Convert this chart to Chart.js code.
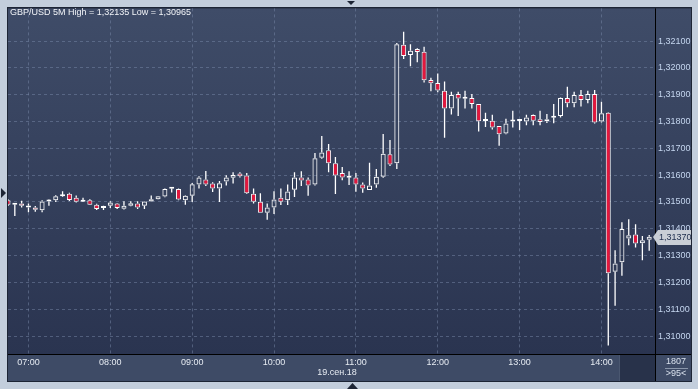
<!DOCTYPE html>
<html>
<head>
<meta charset="utf-8">
<script src="https://cdn.jsdelivr.net/npm/chart.js@4.4.1/dist/chart.umd.min.js"></script>
<style>
  html, body { margin: 0; padding: 0; background: #c3cedc; }
  #wrap { width: 698px; height: 389px; }
</style>
</head>
<body>
<div id="wrap"><canvas id="chart" width="698" height="389"></canvas></div>
<script>
// GBP/USD 5 minute candles, 06:45 .. 14:35
const opens = [
  1.31506, 1.31490, 1.31494, 1.31486, 1.31479, 1.31469, 1.31502, 1.31506, 1.31521, 1.31531,
  1.31516, 1.31501, 1.31506, 1.31490, 1.31479, 1.31486, 1.31494, 1.31475, 1.31486, 1.31494,
  1.31486, 1.31502, 1.31510, 1.31520, 1.31549, 1.31548, 1.31506, 1.31523, 1.31565, 1.31584,
  1.31569, 1.31550, 1.31576, 1.31590, 1.31606, 1.31599, 1.31531, 1.31501, 1.31460, 1.31479,
  1.31516, 1.31506, 1.31546, 1.31591, 1.31584, 1.31565, 1.31665, 1.31693, 1.31644, 1.31608,
  1.31591, 1.31591, 1.31565, 1.31545, 1.31565, 1.31594, 1.31678, 1.31644, 1.32086, 1.32048,
  1.32071, 1.32060, 1.31955, 1.31944, 1.31915, 1.31849, 1.31903, 1.31886, 1.31888, 1.31865,
  1.31803, 1.31803, 1.31783, 1.31755, 1.31800, 1.31802, 1.31800, 1.31824, 1.31809, 1.31801,
  1.31814, 1.31821, 1.31888, 1.31868, 1.31899, 1.31880, 1.31903, 1.31800, 1.31833, 1.31240,
  1.31275, 1.31364, 1.31379, 1.31346, 1.31359
];
const highs = [
  1.31510, 1.31494, 1.31505, 1.31494, 1.31485, 1.31506, 1.31509, 1.31525, 1.31540, 1.31534,
  1.31524, 1.31516, 1.31510, 1.31493, 1.31486, 1.31503, 1.31496, 1.31503, 1.31503, 1.31503,
  1.31503, 1.31524, 1.31522, 1.31550, 1.31556, 1.31550, 1.31525, 1.31571, 1.31596, 1.31616,
  1.31574, 1.31578, 1.31600, 1.31611, 1.31611, 1.31608, 1.31550, 1.31533, 1.31494, 1.31540,
  1.31550, 1.31565, 1.31611, 1.31615, 1.31591, 1.31683, 1.31746, 1.31716, 1.31668, 1.31630,
  1.31615, 1.31608, 1.31573, 1.31646, 1.31623, 1.31754, 1.31731, 1.32093, 1.32135, 1.32088,
  1.32073, 1.32079, 1.31963, 1.31979, 1.31949, 1.31911, 1.31911, 1.31915, 1.31903, 1.31865,
  1.31833, 1.31825, 1.31783, 1.31810, 1.31840, 1.31803, 1.31825, 1.31826, 1.31840, 1.31828,
  1.31865, 1.31890, 1.31930, 1.31911, 1.31918, 1.31915, 1.31918, 1.31874, 1.31835, 1.31320,
  1.31424, 1.31436, 1.31417, 1.31373, 1.31377
];
const lows = [
  1.31485, 1.31448, 1.31479, 1.31462, 1.31464, 1.31462, 1.31486, 1.31500, 1.31519, 1.31504,
  1.31498, 1.31500, 1.31489, 1.31470, 1.31470, 1.31478, 1.31474, 1.31472, 1.31484, 1.31474,
  1.31474, 1.31501, 1.31509, 1.31518, 1.31535, 1.31506, 1.31490, 1.31500, 1.31550, 1.31560,
  1.31537, 1.31500, 1.31561, 1.31569, 1.31591, 1.31530, 1.31494, 1.31460, 1.31434, 1.31455,
  1.31489, 1.31489, 1.31519, 1.31560, 1.31523, 1.31561, 1.31661, 1.31611, 1.31530, 1.31581,
  1.31563, 1.31538, 1.31534, 1.31545, 1.31553, 1.31590, 1.31634, 1.31623, 1.32033, 1.32006,
  1.32021, 1.31946, 1.31913, 1.31909, 1.31740, 1.31826, 1.31821, 1.31849, 1.31849, 1.31763,
  1.31780, 1.31770, 1.31710, 1.31753, 1.31778, 1.31768, 1.31786, 1.31786, 1.31786, 1.31795,
  1.31794, 1.31815, 1.31853, 1.31853, 1.31856, 1.31868, 1.31793, 1.31796, 1.30965, 1.31113,
  1.31225, 1.31339, 1.31330, 1.31283, 1.31318
];
const closes = [
  1.31490, 1.31491, 1.31486, 1.31479, 1.31471, 1.31502, 1.31503, 1.31521, 1.31522, 1.31507,
  1.31501, 1.31502, 1.31490, 1.31474, 1.31478, 1.31498, 1.31478, 1.31486, 1.31495, 1.31479,
  1.31502, 1.31510, 1.31521, 1.31548, 1.31550, 1.31509, 1.31523, 1.31566, 1.31591, 1.31565,
  1.31550, 1.31570, 1.31591, 1.31601, 1.31596, 1.31533, 1.31501, 1.31460, 1.31479, 1.31509,
  1.31501, 1.31539, 1.31591, 1.31580, 1.31561, 1.31663, 1.31685, 1.31644, 1.31599, 1.31591,
  1.31590, 1.31565, 1.31550, 1.31561, 1.31594, 1.31680, 1.31640, 1.32088, 1.32044, 1.32064,
  1.32059, 1.31954, 1.31943, 1.31916, 1.31849, 1.31899, 1.31886, 1.31885, 1.31865, 1.31801,
  1.31802, 1.31778, 1.31753, 1.31793, 1.31801, 1.31803, 1.31815, 1.31803, 1.31798, 1.31809,
  1.31815, 1.31888, 1.31868, 1.31899, 1.31880, 1.31903, 1.31796, 1.31831, 1.31234, 1.31271,
  1.31399, 1.31376, 1.31345, 1.31357, 1.31370
];

const xTickIndex = [3, 15, 27, 39, 51, 63, 75, 87];
const xTickLabels = ['07:00', '08:00', '09:00', '10:00', '11:00', '12:00', '13:00', '14:00'];
const yTickValues = [1.310, 1.311, 1.312, 1.313, 1.314, 1.315, 1.316, 1.317, 1.318, 1.319, 1.320, 1.321];

const titleText = 'GBP/USD 5M High = 1,32135 Low = 1,30965';
const dateText = '19.сен.18';
const totalBars = '1807';
const shownBars = '>95<';

const FONT = 'Liberation Sans';
const fmt = v => v.toFixed(5).replace('.', ',');

const idx = opens.map((_, i) => i);
const bodyLo = idx.map(i => Math.min(opens[i], closes[i]));
const bodyHi = idx.map(i => Math.max(opens[i], closes[i]));

const bodies = idx.map(i => ({ x: i, y: [opens[i], closes[i]] }));
const upperWicks = idx.map(i => ({ x: i, y: [bodyHi[i], highs[i]] }));
const lowerWicks = idx.map(i => ({ x: i, y: [lows[i], bodyLo[i]] }));
const bodyColors = idx.map(i => closes[i] >= opens[i] ? 'rgba(0,0,0,0)' : '#e3173d');

// panel backgrounds, drawn under everything
const backdrop = {
  id: 'backdrop',
  beforeDraw(chart) {
    const ctx = chart.ctx, a = chart.chartArea;
    ctx.save();
    ctx.fillStyle = '#c3cedc';
    ctx.fillRect(0, 0, chart.width, chart.height);
    ctx.fillStyle = '#1d2535';
    ctx.fillRect(7, 7, 685, 375);

    let g = ctx.createLinearGradient(0, a.top, 0, a.bottom);
    g.addColorStop(0, '#3f4c68');
    g.addColorStop(1, '#2a3450');
    ctx.fillStyle = g;
    ctx.fillRect(a.left, a.top, 691 - a.left, a.bottom - a.top);

    ctx.fillStyle = '#3e4b66';
    ctx.fillRect(a.left, a.bottom, 691 - a.left, 381 - a.bottom);
    ctx.fillStyle = '#28324a';
    ctx.fillRect(619, a.bottom + 1, a.right - 619, 381 - a.bottom - 1);
    ctx.fillStyle = '#4a5770';
    ctx.fillRect(619, a.bottom + 1, 1, 381 - a.bottom - 1);
    ctx.restore();
  }
};

// texts, labels and markers on top
const overlay = {
  id: 'overlay',
  afterDraw(chart) {
    const ctx = chart.ctx, a = chart.chartArea;
    ctx.save();

    ctx.fillStyle = '#000000';
    ctx.fillRect(Math.round(a.right), a.top, 1, 381 - a.top);
    ctx.fillRect(a.left, Math.round(a.bottom), 691 - a.left, 1);

    ctx.font = '9px "' + FONT + '"';
    ctx.textBaseline = 'middle';
    ctx.textAlign = 'left';
    ctx.fillStyle = '#f2f4f8';
    ctx.fillText(titleText, 10, 13);

    ctx.textAlign = 'center';
    ctx.fillStyle = '#e6ebf2';
    ctx.fillText(dateText, 337, 373);

    ctx.fillStyle = '#d8e0ec';
    ctx.fillText(totalBars, 676, 362);
    ctx.fillText(shownBars, 676, 374);
    ctx.fillStyle = '#8a96aa';
    ctx.fillRect(665, 368, 23, 1);

    // last price tag
    const py = Math.round(chart.scales.y.getPixelForValue(closes[closes.length - 1]));
    ctx.fillStyle = '#c9ced6';
    ctx.beginPath();
    ctx.moveTo(653, py);
    ctx.lineTo(658, py - 7);
    ctx.lineTo(691, py - 7);
    ctx.lineTo(691, py + 8);
    ctx.lineTo(658, py + 8);
    ctx.closePath();
    ctx.fill();
    ctx.fillStyle = '#1e2d4d';
    ctx.textAlign = 'left';
    ctx.fillText(fmt(closes[closes.length - 1]), 659, py + 1);

    // frame arrows
    ctx.fillStyle = '#1d2535';
    ctx.beginPath();
    ctx.moveTo(347, 1); ctx.lineTo(355, 1); ctx.lineTo(351, 5); ctx.closePath(); ctx.fill();
    ctx.beginPath();
    ctx.moveTo(1, 188); ctx.lineTo(6, 193); ctx.lineTo(1, 198); ctx.closePath(); ctx.fill();
    ctx.beginPath();
    ctx.moveTo(347, 389); ctx.lineTo(358, 389); ctx.lineTo(352.5, 383); ctx.closePath(); ctx.fill();
    ctx.restore();
  }
};

new Chart(document.getElementById('chart'), {
  type: 'bar',
  data: {
    datasets: [
      {
        data: bodies,
        backgroundColor: bodyColors,
        borderColor: '#ffffff',
        borderWidth: 1,
        borderSkipped: false,
        barThickness: 5,
        minBarLength: 2,
        inflateAmount: 0,
        grouped: false
      },
      {
        data: upperWicks,
        backgroundColor: '#ffffff',
        borderWidth: 0,
        barThickness: 1.3,
        inflateAmount: 0,
        grouped: false
      },
      {
        data: lowerWicks,
        backgroundColor: '#ffffff',
        borderWidth: 0,
        barThickness: 1.3,
        inflateAmount: 0,
        grouped: false
      }
    ]
  },
  options: {
    responsive: false,
    animation: false,
    events: [],
    layout: { padding: { left: 8, top: 8, right: 7, bottom: 8 } },
    plugins: {
      legend: { display: false },
      tooltip: { enabled: false }
    },
    scales: {
      x: {
        type: 'linear',
        position: 'bottom',
        offset: false,
        min: 0,
        max: 94.85,
        afterBuildTicks: s => { s.ticks = xTickIndex.map(v => ({ value: v })); },
        afterFit: s => { s.height = 27; },
        ticks: {
          autoSkip: false,
          maxRotation: 0,
          padding: 3,
          color: '#e6ebf2',
          font: { family: FONT, size: 9 },
          callback: (v) => xTickLabels[xTickIndex.indexOf(v)]
        },
        grid: { color: 'rgba(120,136,168,0.5)', drawTicks: false, offset: false },
        border: { display: false, dash: [3, 3] }
      },
      y: {
        position: 'right',
        min: 1.30933,
        max: 1.32222,
        afterBuildTicks: s => { s.ticks = yTickValues.map(v => ({ value: v })); },
        afterFit: s => { s.width = 36; },
        ticks: {
          padding: 3,
          color: '#c4d5ee',
          font: { family: FONT, size: 9 },
          callback: v => fmt(v)
        },
        grid: { color: 'rgba(120,136,168,0.5)', drawTicks: false },
        border: { display: false, dash: [3, 3] }
      }
    }
  },
  plugins: [backdrop, overlay]
});
</script>
</body>
</html>
